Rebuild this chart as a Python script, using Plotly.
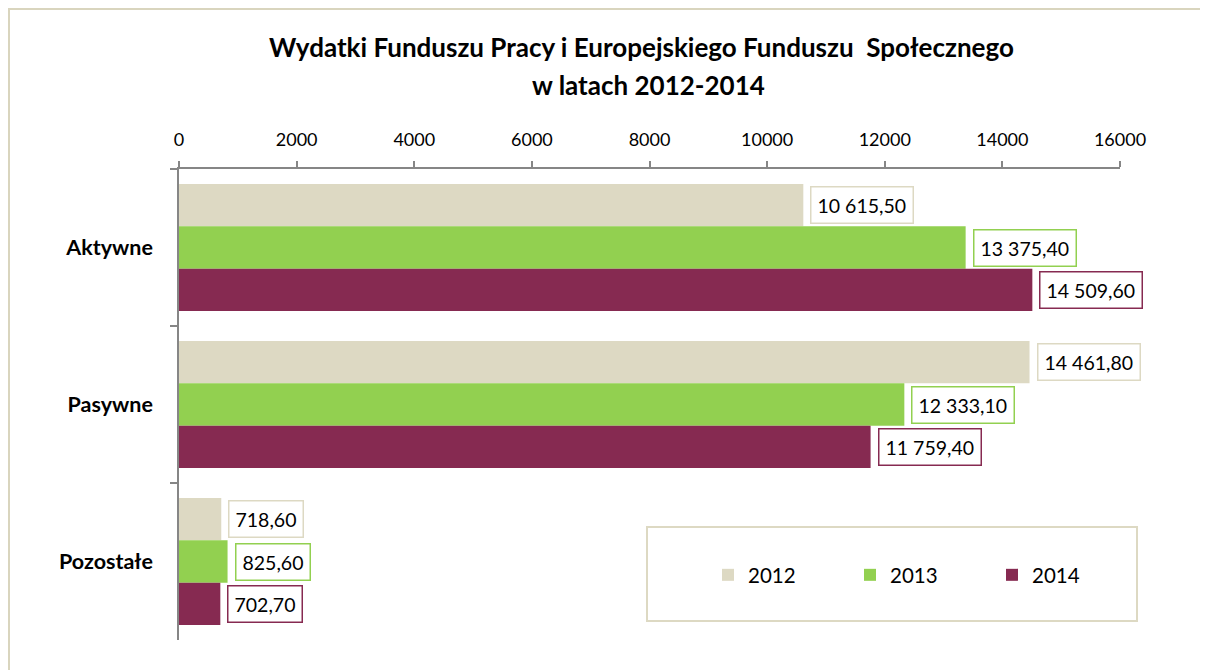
import plotly.graph_objects as go

categories = ["Aktywne", "Pasywne", "Pozostałe"]
years = ["2012", "2013", "2014"]
v2012 = [10615.50, 14461.80, 718.60]
v2013 = [13375.40, 12333.10, 825.60]
v2014 = [14509.60, 11759.40, 702.70]
series = [v2012, v2013, v2014]
colors = ["#DDD9C3", "#92D050", "#862A51"]
x_ticks = [0, 2000, 4000, 6000, 8000, 10000, 12000, 14000, 16000]

FONT = "Lato"
OFF = 8  # page body margin
W, H = 1208, 670
# plot area in reference-screen pixels: x 179..1120, y 169..640
ML = 179 - OFF
MT = 169 - OFF
MR = W - (1120 - OFF)
MB = H - (640 - OFF)
PW, PH = W - ML - MR, H - MT - MB


def px2paper_x(px):
    return (px - OFF - ML) / PW


def px2paper_y(py):
    return (H - MB - (py - OFF)) / PH


def fmt(v):
    return f"{v:,.2f}".replace(",", " ").replace(".", ",")


fig = go.Figure()
for yr, vals, col in zip(years, series, colors):
    fig.add_trace(go.Bar(
        name=yr, y=categories, x=vals, orientation="h",
        marker=dict(color=col, line=dict(width=0)),
        hoverinfo="skip",
    ))

bargap = 0.19
band = PH / len(categories)
barw = band * (1 - bargap) / len(years)
annotations = []
for i, (vals, col) in enumerate(zip(series, colors)):
    shift = (1 - i) * barw
    for cat, v in zip(categories, vals):
        annotations.append(dict(
            x=v, y=cat, xref="x", yref="y", text=fmt(v), showarrow=False,
            xanchor="left", yanchor="middle", xshift=7, yshift=shift,
            font=dict(family=FONT, size=19.5, color="#000000"),
            bordercolor=col, borderwidth=1.5, borderpad=6, bgcolor="#FFFFFF",
        ))

annotations.append(dict(
    text="Wydatki Funduszu Pracy i Europejskiego Funduszu\u00a0 Społecznego",
    xref="paper", yref="paper", x=px2paper_x(641), y=px2paper_y(47),
    xanchor="center", yanchor="middle", showarrow=False,
    font=dict(family=FONT, size=26, color="#000000", weight="bold"),
))
annotations.append(dict(
    text="w latach 2012-2014",
    xref="paper", yref="paper", x=px2paper_x(648), y=px2paper_y(85),
    xanchor="center", yanchor="middle", showarrow=False,
    font=dict(family=FONT, size=26, color="#000000", weight="bold"),
))

shapes = [
    dict(type="rect", xref="paper", yref="paper",
         x0=px2paper_x(9), x1=px2paper_x(1300), y0=px2paper_y(9), y1=px2paper_y(760),
         line=dict(color="#D9D5BE", width=2), fillcolor="rgba(0,0,0,0)", layer="below"),
    dict(type="rect", xref="paper", yref="paper",
         x0=px2paper_x(647), x1=px2paper_x(1137), y0=px2paper_y(527), y1=px2paper_y(621),
         line=dict(color="#DDD9C3", width=2), fillcolor="#FFFFFF", layer="below"),
]

fig.update_layout(
    width=W, height=H,
    margin=dict(l=ML, r=MR, t=MT, b=MB, autoexpand=False),
    paper_bgcolor="#FFFFFF", plot_bgcolor="rgba(0,0,0,0)",
    barmode="group", bargap=bargap, bargroupgap=0,
    font=dict(family=FONT, color="#000000"),
    showlegend=True,
    legend=dict(
        orientation="h", x=px2paper_x(708), y=px2paper_y(575),
        xanchor="left", yanchor="middle", xref="paper", yref="paper",
        font=dict(family=FONT, size=20.5, color="#000000"),
        bgcolor="rgba(0,0,0,0)", borderwidth=0,
        entrywidth=97, entrywidthmode="pixels", traceorder="normal",
        itemclick=False, itemdoubleclick=False,
    ),
    annotations=annotations,
    shapes=shapes,
    xaxis=dict(
        side="top", range=[0, 16000], tickvals=x_ticks,
        ticktext=[str(t) for t in x_ticks],
        showgrid=False, zeroline=False, showline=True,
        linecolor="#868686", linewidth=1.5,
        ticks="outside", ticklen=6, tickcolor="#868686", tickwidth=1.5,
        tickfont=dict(family=FONT, size=18, color="#000000"),
        ticklabelstandoff=8, fixedrange=True,
    ),
    yaxis=dict(
        type="category", autorange="reversed",
        showgrid=False, zeroline=False, showline=True,
        linecolor="#868686", linewidth=1.5,
        ticks="outside", tickson="boundaries", ticklen=7,
        tickcolor="#868686", tickwidth=1.5,
        tickfont=dict(family=FONT, size=21.5, color="#000000", weight="bold"),
        ticklabelstandoff=20, fixedrange=True,
    ),
)

fig.write_html("out.html")
